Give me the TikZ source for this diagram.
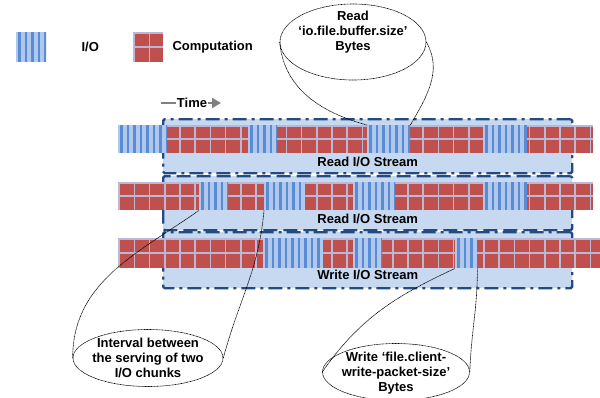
\documentclass[tikz,border=0pt]{standalone}
\usepackage{fontspec}
\setmainfont{Liberation Sans}
\usepackage{tikz}
\usetikzlibrary{arrows.meta,positioning,calc,shapes.geometric}
\definecolor{iolight}{HTML}{AFC8EC}
\definecolor{iodark}{HTML}{5A8CD6}
\definecolor{compred}{HTML}{C0504D}
\definecolor{compgrid}{HTML}{BAB8D4}
\definecolor{streamfill}{HTML}{C6D9F1}
\definecolor{streamedge}{HTML}{244B80}

\begin{document}
\begin{tikzpicture}[
  x=1pt, y=1pt,
  io/.style={fill=iolight, inner sep=0, anchor=north west, minimum height=28,
    path picture={\foreach \k in {0,...,10}
      \fill[iodark] ($(path picture bounding box.south west)+(\k*6.5+2,0)$) rectangle ($(path picture bounding box.north west)+(\k*6.5+4.5,0)$);}},
  comp/.style={fill=compred, inner sep=0, anchor=north west, minimum height=28,
    path picture={\foreach \k in {0,...,40}
      \draw[compgrid, line width=1.6] ($(path picture bounding box.north west)+(\k*15.2+1,0)$) -- ($(path picture bounding box.south west)+(\k*15.2+1,0)$);
      \draw[compgrid, line width=1.6] ($(path picture bounding box.north west)+(0,-1)$) -- ($(path picture bounding box.north east)+(0,-1)$);
      \draw[compgrid, line width=1.6] (path picture bounding box.west) -- (path picture bounding box.east);}},
  stream/.style={fill=streamfill, draw=streamedge, line width=2.4, rounded corners=1.5, inner sep=0, anchor=north west, minimum width=409},
  dashdot/.style={dash pattern=on 14pt off 5pt on 3pt off 5pt},
  lbl/.style={font=\bfseries\fontsize{13}{15}\selectfont, inner sep=1pt},
  note/.style={ellipse, draw, line width=0.6, dash pattern=on 1pt off 0.5pt, inner sep=0},
  notetext/.style={align=center, font=\bfseries\fontsize{13}{15}\selectfont, inner sep=0},
  callout/.style={line width=0.6, dash pattern=on 1pt off 0.5pt},
  timeline/.style={draw=gray, line width=2.4}
]
\useasboundingbox (0,0) rectangle (600,-397);

\node[io, minimum width=30, minimum height=30] (iokey) at (16,-32) {};
\node[lbl, right=34pt of iokey] (iolbl) {I/O};
\node[comp, minimum width=30, minimum height=30] (compkey) at (133,-32) {};
\node[lbl, right=8pt of compkey] (complbl) {Computation};

\node[lbl] (time) at (192,-103) {Time};
\coordinate (tstart) at (161,-103);
\coordinate (tend) at (221,-103);
\draw[timeline] (tstart) -- (time.west);
\draw[timeline, -{Triangle[length=9pt,width=10pt]}] (time.east) -- (tend);

\node[stream, dashdot, minimum height=54] (stream1) at (162,-118) {};
\node[stream, dashed, dash pattern=on 14pt off 6pt, minimum height=54] (stream2) at (162,-175) {};
\node[stream, dashdot, minimum height=56] (stream3) at (162,-231) {};

\node[comp, minimum width=475] (band1) at (118,-125) {};
\node[comp, minimum width=475] (band2) at (118,-182) {};
\node[comp, minimum width=482, minimum height=30] (band3) at (118,-238) {};

\foreach \x/\w/\n in {118/49/r1a, 248/29/r1b, 367/43/r1c, 483/44/r1d}
  \node[io, minimum width=\w] (\n) at (\x,-125) {};
\foreach \x/\w/\n in {199/29/r2a, 264/41/r2b, 353/42/r2c, 483/44/r2d}
  \node[io, minimum width=\w] (\n) at (\x,-182) {};
\foreach \x/\w/\n in {263/60/r3a, 353/29/r3b, 455/22/r3c}
  \node[io, minimum width=\w, minimum height=30] (\n) at (\x,-238) {};

\node[lbl] (lab1) at ([yshift=12]stream1.south) {Read I/O Stream};
\node[lbl] (lab2) at ([yshift=12]stream2.south) {Read I/O Stream};
\node[lbl] (lab3) at ([yshift=14]stream3.south) {Write I/O Stream};

\node[note, minimum width=146, minimum height=76] (readnote) at (353,-42) {};
\node[notetext] (readtext) at (353,-32) {Read\\‘io.file.buffer.size’\\Bytes};
\node[note, minimum width=150, minimum height=57] (gapnote) at (148,-358) {};
\node[notetext] (gaptext) at (148,-358) {Interval between\\the serving of two\\I/O chunks};
\node[note, minimum width=147, minimum height=57] (writenote) at (396,-372) {};
\node[notetext] (writetext) at (396,-373) {Write ‘file.client-\\write-packet-size’\\Bytes};

\draw[callout] (readnote.west) to[out=-85, in=165] (r1c.north west);
\draw[callout] (readnote.east) to[out=-60, in=60] (r1c.north east);
\draw[callout] (gapnote.west) to[out=90, in=215] (r2a.south west);
\draw[callout] (gapnote.east) to[out=75, in=265] (r2b.south west);
\draw[callout] (writenote.west) to[out=55, in=205] (r3c.south west);
\draw[callout] (writenote.east) to[out=88, in=270] (r3c.south east);
\end{tikzpicture}
\end{document}
